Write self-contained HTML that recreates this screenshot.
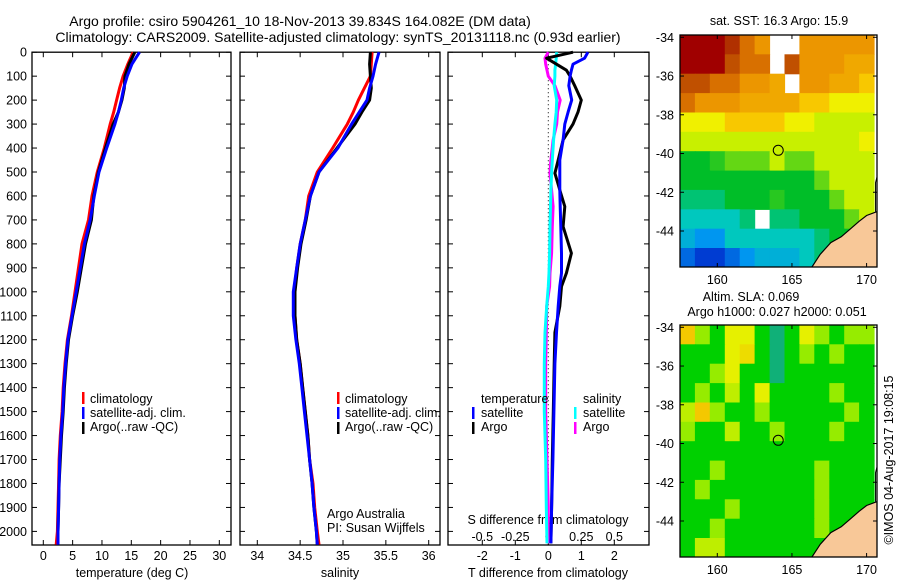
<!DOCTYPE html>
<html><head><meta charset="utf-8"><style>
html,body{margin:0;padding:0;background:#fff;}
svg{display:block;font-family:"Liberation Sans",sans-serif;}
text{font-size:12.5px;fill:#000;}
</style></head><body>
<svg id="fig" width="900" height="580" viewBox="0 0 900 580" xmlns="http://www.w3.org/2000/svg">
<rect width="900" height="580" fill="#fff"/>
<text x="300" y="26" text-anchor="middle" style="font-size:14px">Argo profile: csiro 5904261_10 18-Nov-2013 39.834S 164.082E (DM data)</text>
<text x="338" y="42" text-anchor="middle" style="font-size:14px">Climatology: CARS2009. Satellite-adjusted climatology: synTS_20131118.nc (0.93d earlier)</text>
<g id="plots"></g>
</svg>
<script>
// ---------- data ----------
const depths = [0,50,100,150,200,250,300,400,500,600,700,800,900,1000,1100,1200,1300,1400,1500,1600,1700,1800,1900,2000,2055];
const tempClim = [15.3,14.4,13.6,13.0,12.5,12.0,11.4,10.4,9.2,8.3,7.7,6.6,6.0,5.4,4.8,4.1,3.7,3.4,3.2,2.9,2.7,2.6,2.5,2.4,2.2];
const tempSat  = [16.4,15.1,14.3,13.7,13.3,12.8,12.2,10.8,9.5,8.7,8.0,7.0,6.3,5.6,4.9,4.2,3.8,3.5,3.3,3.0,2.8,2.7,2.6,2.5,2.5];
const tempArgo = [15.6,14.6,13.9,13.8,13.4,12.8,11.9,10.6,9.4,8.6,8.2,7.2,6.5,5.8,5.0,4.3,3.9,3.6,3.4,3.1,2.9,2.7,2.6,2.5,2.5];
const salClim = [35.34,35.33,35.32,35.25,35.18,35.12,35.05,34.88,34.70,34.60,34.56,34.50,34.46,34.43,34.44,34.46,34.50,34.53,34.56,34.59,34.61,34.65,34.67,34.70,34.72];
const salSat  = [35.42,35.38,35.35,35.31,35.28,35.19,35.10,34.94,34.72,34.62,34.56,34.50,34.46,34.42,34.42,34.45,34.49,34.52,34.55,34.58,34.61,34.64,34.66,34.69,34.70];
const salArgo = [35.32,35.31,35.32,35.33,35.31,35.22,35.14,34.93,34.72,34.62,34.57,34.51,34.47,34.44,34.44,34.46,34.50,34.53,34.56,34.59,34.61,34.64,34.66,34.69,34.70];
const diffDepths = [0,25,50,75,100,140,200,250,300,366,450,505,575,644,728,839,922,978,1060,1170,1300,1500,1700,1900,2050];
const tDiffSat  = [1.2,1.1,0.75,0.7,0.66,0.62,0.71,0.6,0.5,0.45,0.35,0.35,0.35,0.36,0.38,0.4,0.4,0.35,0.3,0.25,0.2,0.17,0.14,0.1,0.08];
const tDiffArgo = [0.75,-0.05,0.25,0.55,0.66,0.8,1.0,0.9,0.75,0.45,0.3,0.2,0.35,0.5,0.45,0.7,0.55,0.4,0.35,0.2,0.18,0.15,0.12,0.1,0.08];
const sDiffSat  = [0.064,0.06,0.055,0.05,0.05,0.045,0.064,0.06,0.05,0.04,0.03,0.025,0.02,0.017,0.013,0.01,0.005,0.0,-0.012,-0.025,-0.03,-0.03,-0.02,-0.015,-0.01];
const sDiffArgo = [0.0,-0.025,-0.02,-0.01,0.0,0.05,0.09,0.07,0.064,0.036,0.02,0.013,0.025,0.036,0.03,0.025,0.013,0.01,-0.012,-0.015,-0.02,-0.02,-0.01,0.0,0.0];
const depthTicks = [0,100,200,300,400,500,600,700,800,900,1000,1100,1200,1300,1400,1500,1600,1700,1800,1900,2000];
const tempTicks = [0,5,10,15,20,25,30];
const salTicks = [34,34.5,35,35.5,36];
const salTickLabels = ["34","34.5","35","35.5","36"];
const tDiffTicks = [-2,-1,0,1,2];
const sDiffTicks = [-0.5,-0.25,0,0.25,0.5];
const sDiffTickLabels = ["-0.5","-0.25","0","0.25","0.5"];
const latTicks = [-34,-36,-38,-40,-42,-44];
const lonTicks = [160,165,170];
const sstGrid = [
 [9,9,9,8.5,7.5,7,null,null,7,7,7,7,7],
 [9,9,9,8,7.5,7.5,null,8,7,7,7,6.5,6.5],
 [8,8,7.5,7.5,7,7,6.5,null,7,7,6.5,6.5,6],
 [7.5,7,7,7,6.5,6.5,6.5,6.5,6,6,5.5,5.5,5.5],
 [5.5,5.5,5.5,6,6,6,6,5.5,5.5,5,5,5,5],
 [5,5,5,5,5,5,5,5,5,5,5,5,5.5],
 [4,4,4.2,4.5,4.5,4.5,5,4.5,4.5,5,5,5,5],
 [4,4,4,4,4,4,4,4,4,4.5,5,5,5],
 [3.5,3.5,3.5,4,4,4,4.2,4,4,4,4.5,5,5],
 [3,3,3,3,3.5,null,3.5,3.5,4,4,4,4.5,5],
 [2.5,2,2,3,3,3,3,3,3,3.5,4,4,4],
 [1.5,1,1,1.5,2,2.5,2.5,2.5,3,3.5,4,4,4]
];
const slaGrid = [
 [3,1,0,2,2,0,-1,0,2,1,0,1,1],
 [0,0,0,2,2.5,0,-1,0,1,0,1,0,0],
 [0,0,1,2,0,0,-1,0,0,0,0,0,0],
 [0,1,0,1.5,0,2,0,0,0,0,1,0,0],
 [1.5,3,1,0,0,1,0,0,0,0,0,1,0],
 [1,0,0,1.5,0,0,1,0,0,0,1,0,0],
 [0,0,0,0,0,0,0,0,0,0,0,0,0],
 [0,0,1,0,0,0,0,0,0,1,0,0,0],
 [0,1,0,0,0,0,0,0,0,1,0,0,0],
 [0,0,0,1,0,0,0,0,0,1,0,0,0],
 [0,0,1,0,0,0,0,0,0,1,0,0,0],
 [0,1.5,1.5,0,0,0,0,0,0,0,0,0,0]
];
const coastLon = [166.3,166.9,167.6,168.3,168.9,169.5,170.0,170.7,170.7];
const coastLat = [-45.9,-45.2,-44.6,-44.3,-43.9,-43.5,-43.2,-43.0,-45.9];
const argoLon = 164.082;
const argoLat = -39.834;

// ---------- helpers ----------
const NS="http://www.w3.org/2000/svg";
const root=document.getElementById('plots');
function mk(tag,attrs,parent){const e=document.createElementNS(NS,tag);for(const k in attrs)e.setAttribute(k,attrs[k]);(parent||root).appendChild(e);return e;}
const PT=52.2, PB=545;
const yD = d => PT + d*0.2396;
const panels=[{l:32,r:231},{l:240,r:440},{l:448,r:649}];
const xT = t => 43.3 + t*5.867;
const xS = s => 257.3 + (s-34)*85.7;
const xTD = v => 548.3 + v*33;
const xSD = v => 548.3 + v*132;

function linePath(xs, ds, fx){
  let p='';
  for(let i=0;i<xs.length;i++){
    p += (i===0?'M':'L')+fx(xs[i]).toFixed(1)+','+yD(ds[i]).toFixed(1)+' ';
  }
  return p;
}
function frame(p,name){
  const r=mk('rect',{x:p.l,y:PT,width:p.r-p.l,height:PB-PT,fill:'none',stroke:'#000','stroke-width':1.3});
  
  
  depthTicks.forEach(d=>{
    const t1=mk('line',{x1:p.l,x2:p.l+5,y1:yD(d),y2:yD(d),stroke:'#000'});
    
    
    const t2=mk('line',{x1:p.r-5,x2:p.r,y1:yD(d),y2:yD(d),stroke:'#000'});
    
    
  });
}
function xTicks(ticks,labels,fx,labelY,name){
  ticks.forEach((v,i)=>{
    const x=fx(v);
    const a=mk('line',{x1:x,x2:x,y1:PB,y2:PB-5,stroke:'#000'});
    
    
    const b=mk('line',{x1:x,x2:x,y1:PT,y2:PT+5,stroke:'#000'});
    
    
    const t=mk('text',{x:x,y:labelY,'text-anchor':'middle'});
    t.textContent=labels?labels[i]:String(v);
    
    
  });
}
function line(xs,ds,fx,color,w,name){
  const e=mk('path',{d:linePath(xs,ds,fx),fill:'none',stroke:color,'stroke-width':w,'stroke-linejoin':'round'});
  
  
}
function txt(x,y,s,name,anchor){
  const t=mk('text',{x:x,y:y,'text-anchor':anchor||'start'});
  t.textContent=s;
  
  
  return t;
}
function legBar(x,y,color,name){
  const r=mk('rect',{x:x,y:y,width:2.5,height:12,fill:color});
  
  
}

depthTicks.forEach(d=>{
  const t=mk('text',{x:27,y:yD(d)+4.5,'text-anchor':'end'});
  t.textContent=String(d);
  
  
});

// panel 1 temperature
frame(panels[0],'temperature-panel');
xTicks(tempTicks,null,xT,560,'temperature-axis');
txt(132,577,'temperature (deg C)','temperature-axis-title','middle');
line(tempClim,depths,xT,'#ff0000',3,'temperature-climatology-line');
line(tempArgo,depths,xT,'#000000',3,'temperature-argo-line');
line(tempSat,depths,xT,'#0000ff',3,'temperature-satellite-line');
legBar(82,392,'#ff0000','legend-climatology-marker'); txt(90,403,'climatology','legend-climatology');
legBar(82,407,'#0000ff','legend-satellite-marker'); txt(90,417,'satellite-adj. clim.','legend-satellite-adj');
legBar(82,422,'#000000','legend-argo-marker'); txt(90,431,'Argo(..raw -QC)','legend-argo');

// panel 2 salinity
frame(panels[1],'salinity-panel');
xTicks(salTicks,salTickLabels,xS,560,'salinity-axis');
txt(340,577,'salinity','salinity-axis-title','middle');
line(salClim,depths,xS,'#ff0000',3,'salinity-climatology-line');
line(salArgo,depths,xS,'#000000',3,'salinity-argo-line');
line(salSat,depths,xS,'#0000ff',3,'salinity-satellite-line');
legBar(337,392,'#ff0000','legend-climatology-marker'); txt(345,403,'climatology','legend-climatology');
legBar(337,407,'#0000ff','legend-satellite-marker'); txt(345,417,'satellite-adj. clim.','legend-satellite-adj');
legBar(337,422,'#000000','legend-argo-marker'); txt(345,431,'Argo(..raw -QC)','legend-argo');
txt(327,518,'Argo Australia','credit-argo-australia');
txt(327,532,'PI: Susan Wijffels','credit-pi');

// panel 3 differences
frame(panels[2],'difference-panel');
{
  const z=mk('line',{x1:xTD(0),x2:xTD(0),y1:PT,y2:PB,stroke:'#000','stroke-dasharray':'1,3'});
  
  
}
tDiffTicks.forEach(v=>{
  const x=xTD(v);
  const a=mk('line',{x1:x,x2:x,y1:PB,y2:PB-5,stroke:'#000'});
  
  
  const b=mk('line',{x1:x,x2:x,y1:PT,y2:PT+5,stroke:'#000'});
  
  
  const t=mk('text',{x:x,y:560,'text-anchor':'middle'});
  t.textContent=String(v);
  
  
});
sDiffTicks.forEach((v,i)=>{
  const t=mk('text',{x:xSD(v),y:541,'text-anchor':'middle'});
  t.textContent=sDiffTickLabels[i];
  
  
});
txt(548,524,'S difference from climatology','s-diff-axis-title','middle');
txt(548,577,'T difference from climatology','t-diff-axis-title','middle');
line(sDiffArgo,diffDepths,xSD,'#ff00ff',3,'s-diff-argo-line');
line(sDiffSat,diffDepths,xSD,'#00ffff',3,'s-diff-satellite-line');
line(tDiffArgo,diffDepths,xTD,'#000000',3,'t-diff-argo-line');
line(tDiffSat,diffDepths,xTD,'#0000ff',3,'t-diff-satellite-line');
txt(481,403,'temperature','legend-temperature-header');
legBar(472,407,'#0000ff','legend-t-satellite-marker'); txt(481,417,'satellite','legend-t-satellite');
legBar(472,422,'#000000','legend-t-argo-marker'); txt(481,431,'Argo','legend-t-argo');
txt(583,403,'salinity','legend-salinity-header');
legBar(574,407,'#00ffff','legend-s-satellite-marker'); txt(583,417,'satellite','legend-s-satellite');
legBar(574,422,'#ff00ff','legend-s-argo-marker'); txt(583,431,'Argo','legend-s-argo');

// ---------- maps ----------
const sstStops=[[0,[0,0,150]],[1,[0,60,210]],[2,[0,150,240]],[3,[0,200,190]],[4,[0,190,40]],[5,[200,240,0]],[5.5,[240,240,0]],[6,[248,200,0]],[6.5,[240,168,0]],[7,[236,150,0]],[7.5,[216,112,0]],[8,[192,80,0]],[8.5,[176,48,0]],[9,[160,0,0]]];
const slaStops=[[-1,[16,176,120]],[0,[0,208,0]],[1,[150,236,0]],[2,[230,240,0]],[3,[244,200,0]]];
function cmap(stops,v){
  if(v<=stops[0][0])return 'rgb('+stops[0][1]+')';
  for(let i=1;i<stops.length;i++){
    if(v<=stops[i][0]){
      const a=stops[i-1],b=stops[i],f=(v-a[0])/(b[0]-a[0]);
      return 'rgb('+a[1].map((c,j)=>Math.round(c+(b[1][j]-c)*f)).join(',')+')';
    }
  }
  return 'rgb('+stops[stops.length-1][1]+')';
}
function drawMap(top,grid,stops,name,title1,title2){
  const L=680,R=877,B=top+232;
  const lonX = lon => 717.3 + (lon-160)*14.93;
  const latY = lat => top+2.3 + (-34-lat)*19.37;
  const g=mk('g',{});
  
  
  const clip=mk('clipPath',{id:name+'-clip'},g);
  mk('rect',{x:L,y:top,width:R-L,height:B-top},clip);
  const cells=mk('g',{'clip-path':'url(#'+name+'-clip)'},g);
  grid.forEach((row,ri)=>{
    row.forEach((v,ci)=>{
      if(v===null)return;
      const x0=lonX(157.5+ci), y0=latY(-33.88-ri);
      const c=mk('rect',{x:x0.toFixed(1),y:y0.toFixed(1),width:(14.93+0.6).toFixed(1),height:(19.37+0.6).toFixed(1),fill:cmap(stops,v)},cells);
      
      
    });
  });
  let p='';
  coastLon.forEach((lo,i)=>{p+=(i?'L':'M')+lonX(lo).toFixed(1)+','+latY(coastLat[i]).toFixed(1)+' ';});
  const land=mk('path',{d:p+'Z',fill:'#f8c898',stroke:'#000','stroke-width':1.2},cells);
  
  
  const cl=mk('polyline',{points:lonX(170.6)+','+latY(-43)+' '+lonX(170.6)+','+latY(-41.5)+' '+lonX(170.7)+','+latY(-41.2),fill:'none',stroke:'#000','stroke-width':1},cells);
  
  
  const f=mk('rect',{x:L,y:top,width:R-L,height:B-top,fill:'none',stroke:'#000','stroke-width':1.3},g);
  
  
  latTicks.forEach(lat=>{
    const y=latY(lat);
    const a=mk('line',{x1:L,x2:L+4,y1:y,y2:y,stroke:'#000'},g);
    
    
    const b=mk('line',{x1:R-4,x2:R,y1:y,y2:y,stroke:'#000'},g);
    
    
    const t=mk('text',{x:674,y:y+4.5,'text-anchor':'end'},g);
    t.textContent=String(lat);
    
    
  });
  lonTicks.forEach(lon=>{
    const x=lonX(lon);
    const a=mk('line',{x1:x,x2:x,y1:B,y2:B-4,stroke:'#000'},g);
    
    
    const b=mk('line',{x1:x,x2:x,y1:top,y2:top+4,stroke:'#000'},g);
    
    
    const t=mk('text',{x:x,y:B+17,'text-anchor':'middle'},g);
    t.textContent=String(lon);
    
    
  });
  const c=mk('circle',{cx:lonX(argoLon),cy:latY(argoLat),r:5,fill:'none',stroke:'#000','stroke-width':1},g);
  
  
  if(title2){
    const t1=mk('text',{x:751,y:top-24,'text-anchor':'middle'},g);
    t1.textContent=title1;
    
    
    const t2=mk('text',{x:777,y:top-9,'text-anchor':'middle'},g);
    t2.textContent=title2;
    
    
  } else {
    const t1=mk('text',{x:779,y:top-10,'text-anchor':'middle'},g);
    t1.textContent=title1;
    
    
  }
}
drawMap(35,sstGrid,sstStops,'sst-map','sat. SST: 16.3 Argo: 15.9',null);
drawMap(325,slaGrid,slaStops,'sla-map','Altim. SLA: 0.069','Argo h1000: 0.027 h2000: 0.051');
{
  const t=mk('text',{x:893,y:460,'text-anchor':'middle',transform:'rotate(-90 893 460)'});
  t.textContent='©IMOS 04-Aug-2017 19:08:15';
  
  
}
</script>
</body></html>
